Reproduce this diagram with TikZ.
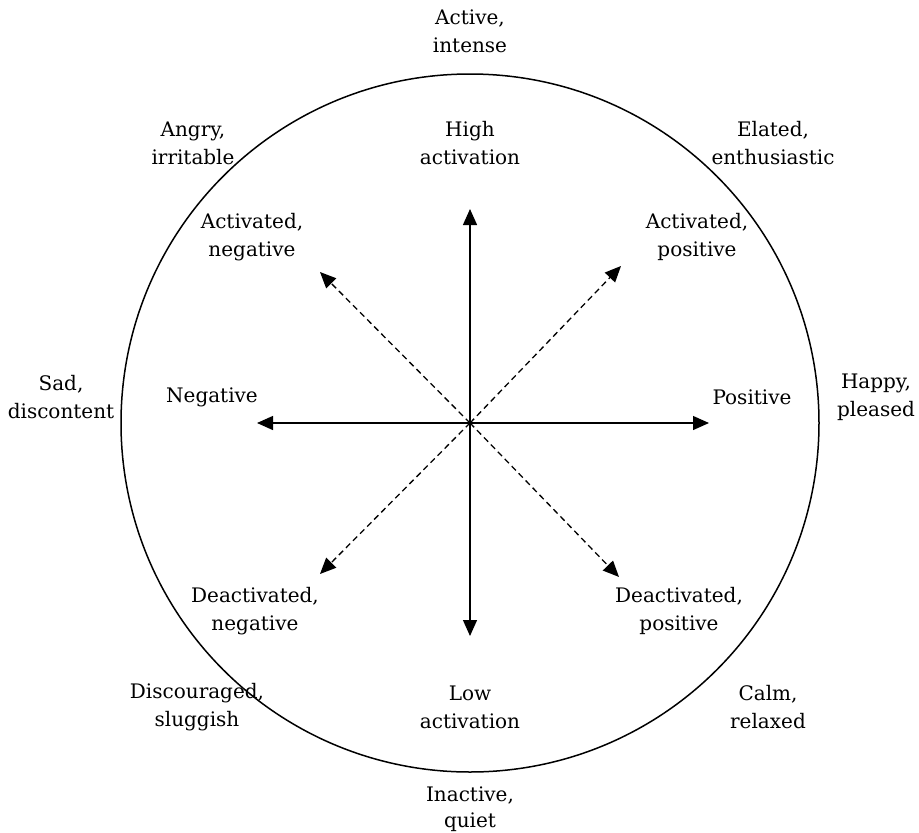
\documentclass[tikz,border=0pt]{standalone}
\usepackage{fontspec}
\setmainfont{DejaVu Serif}
\usetikzlibrary{arrows.meta}
\begin{document}
\begin{tikzpicture}[x=1pt,y=-1pt,
  lbl/.style={align=center,inner sep=0pt,font=\fontsize{20}{28}\selectfont},
  axis/.style={line width=1.3pt,-{Triangle[length=16pt,width=14pt]}},
  diag/.style={line width=1.3pt,dash pattern=on 6pt off 4pt,-{Triangle[length=16pt,width=14pt]}}]
\useasboundingbox (0,0) rectangle (919,833);
% circumplex ring
\coordinate (o) at (470,423);
\draw[line width=1.5pt] (o) circle[radius=349];
% arrow ends
\coordinate (n) at (470,209);
\coordinate (s) at (470,636);
\coordinate (w) at (257,423);
\coordinate (e) at (709,423);
\coordinate (nw) at (320,272);
\coordinate (ne) at (621,266);
\coordinate (sw) at (320,574);
\coordinate (se) at (619,577);
\draw[axis] (o) -- (n);
\draw[axis] (o) -- (s);
\draw[axis] (o) -- (w);
\draw[axis] (o) -- (e);
\draw[diag] (o) -- (nw);
\draw[diag] (o) -- (ne);
\draw[diag] (o) -- (sw);
\draw[diag] (o) -- (se);
% inner labels
\node[lbl] (hi) at (470,143) {High\\activation};
\node[lbl] (lo) at (470,707) {Low\\activation};
\node[lbl] (neg) at (212,397) {Negative};
\node[lbl] (pos) at (752,397) {Positive};
\node[lbl] (an) at (252,237) {Activated,\\negative};
\node[lbl] (ap) at (697,237) {Activated,\\positive};
\node[lbl] (dn) at (255,611) {Deactivated,\\negative};
\node[lbl] (dp) at (679,611) {Deactivated,\\positive};
% outer labels
\node[lbl] (act) at (470,31) {Active,\\intense};
\node[lbl,anchor=south,font=\fontsize{20}{26}\selectfont] (ina) at (470,832) {Inactive,\\quiet};
\node[lbl] (sad) at (61,397) {Sad,\\discontent};
\node[lbl] (hap) at (876,397) {Happy,\\pleased};
\node[lbl] (ang) at (193,143) {Angry,\\irritable};
\node[lbl] (ela) at (773,143) {Elated,\\enthusiastic};
\node[lbl] (dis) at (197,707) {Discouraged,\\sluggish};
\node[lbl] (cal) at (768,707) {Calm,\\relaxed};
\end{tikzpicture}
\end{document}
